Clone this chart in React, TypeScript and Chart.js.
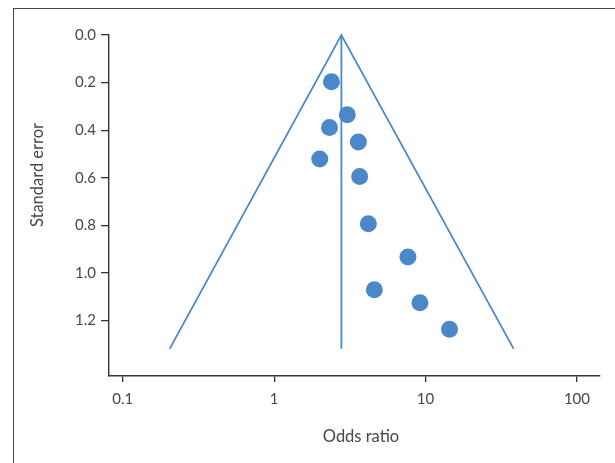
import React, { useEffect, useRef } from "react";
import { Chart, registerables } from "chart.js";

Chart.register(...registerables);

// Study estimates (odds ratio, standard error)
const oddsRatios = [2.39, 3.04, 2.32, 3.6, 2.0, 3.67, 4.19, 7.65, 4.59, 9.18, 14.4];
const standardErrors = [0.196, 0.335, 0.389, 0.45, 0.521, 0.595, 0.793, 0.933, 1.071, 1.125, 1.237];

// Funnel: pooled estimate and pseudo 95% limits at the largest SE
const pooledOR = 2.78;
const funnelLowerOR = 0.204;
const funnelUpperOR = 38.2;
const funnelMaxSE = 1.319;

const xTickValues = [0.1, 1, 10, 100];
const yTickValues = [0, 0.2, 0.4, 0.6, 0.8, 1.0, 1.2];
const xRange = [0.0811, 142];
const yRange = [0, 1.433];

const xTitle = "Odds ratio";
const yTitle = "Standard error";

const BLUE = "#4a88c7";
const AXIS = "#333333";
const TEXT = "#474747";
const FONT = "Lato";

const titlePlugin = {
  id: "manualTitles",
  afterDraw(chart: any) {
    const { ctx } = chart;
    ctx.save();
    ctx.fillStyle = TEXT;
    ctx.font = `16.5px ${FONT}`;
    ctx.textAlign = "center";
    ctx.textBaseline = "middle";
    ctx.fillText(xTitle, 361, 437);
    ctx.translate(38, 175);
    ctx.rotate(-Math.PI / 2);
    ctx.fillText(yTitle, 0, 0);
    ctx.restore();
  },
};

export default function App() {
  const ref = useRef<HTMLCanvasElement | null>(null);

  useEffect(() => {
    if (!ref.current) return;
    const points = oddsRatios.map((x, i) => ({ x, y: standardErrors[i] }));
    const funnel = [
      { x: funnelLowerOR, y: funnelMaxSE },
      { x: pooledOR, y: 0 },
      { x: funnelUpperOR, y: funnelMaxSE },
    ];
    const centre = [
      { x: pooledOR, y: 0 },
      { x: pooledOR, y: funnelMaxSE },
    ];
    const tickFont = { family: FONT, size: 15 };
    const chart = new Chart(ref.current, {
      type: "scatter",
      data: {
        datasets: [
          {
            data: funnel,
            showLine: true,
            borderColor: BLUE,
            borderWidth: 1.8,
            pointRadius: 0,
            fill: false,
            clip: false as any,
          },
          {
            data: centre,
            showLine: true,
            borderColor: BLUE,
            borderWidth: 1.8,
            pointRadius: 0,
            fill: false,
            clip: false as any,
          },
          {
            data: points,
            showLine: false,
            backgroundColor: BLUE,
            borderColor: BLUE,
            borderWidth: 0,
            pointRadius: 8.5,
            clip: false as any,
          },
        ],
      },
      options: {
        animation: false,
        responsive: false,
        devicePixelRatio: 1,
        layout: { padding: { top: 35, right: 15, left: 0, bottom: 0 } },
        plugins: { legend: { display: false }, tooltip: { enabled: false } },
        scales: {
          x: {
            type: "logarithmic",
            position: "bottom",
            min: xRange[0],
            max: xRange[1],
            afterBuildTicks: (s: any) => {
              s.ticks = xTickValues.map((v) => ({ value: v }));
            },
            afterFit: (s: any) => {
              s.height = 87;
            },
            grid: {
              display: true,
              drawOnChartArea: false,
              drawTicks: true,
              tickLength: 6,
              color: AXIS,
              lineWidth: 1.3,
            },
            border: { display: true, color: AXIS, width: 1.4 },
            ticks: {
              autoSkip: false,
              maxRotation: 0,
              padding: 8,
              color: TEXT,
              font: tickFont,
              callback: (v: any) => String(v),
            },
          },
          y: {
            type: "linear",
            position: "left",
            reverse: true,
            min: yRange[0],
            max: yRange[1],
            afterBuildTicks: (s: any) => {
              s.ticks = yTickValues.map((v) => ({ value: v }));
            },
            afterFit: (s: any) => {
              s.width = 109;
            },
            grid: {
              display: true,
              drawOnChartArea: false,
              drawTicks: true,
              tickLength: 8,
              color: AXIS,
              lineWidth: 1.3,
            },
            border: { display: true, color: AXIS, width: 1.4 },
            ticks: {
              autoSkip: false,
              padding: 5,
              color: TEXT,
              font: tickFont,
              callback: (v: any) => Number(v).toFixed(1),
            },
          },
        },
      },
      plugins: [titlePlugin],
    });
    return () => chart.destroy();
  }, []);

  return (
    <div
      style={{
        position: "fixed",
        left: 0,
        top: 0,
        width: 615,
        height: 463,
        overflow: "hidden",
        background: "#ffffff",
      }}
    >
      <canvas
        ref={ref}
        width={615}
        height={463}
        style={{ position: "absolute", left: 0, top: 0, width: 615, height: 463 }}
      />
      <div
        style={{
          position: "absolute",
          left: 13,
          top: 8,
          width: 700,
          height: 600,
          border: "1.3px solid #444",
          boxSizing: "border-box",
          pointerEvents: "none",
        }}
      />
    </div>
  );
}
